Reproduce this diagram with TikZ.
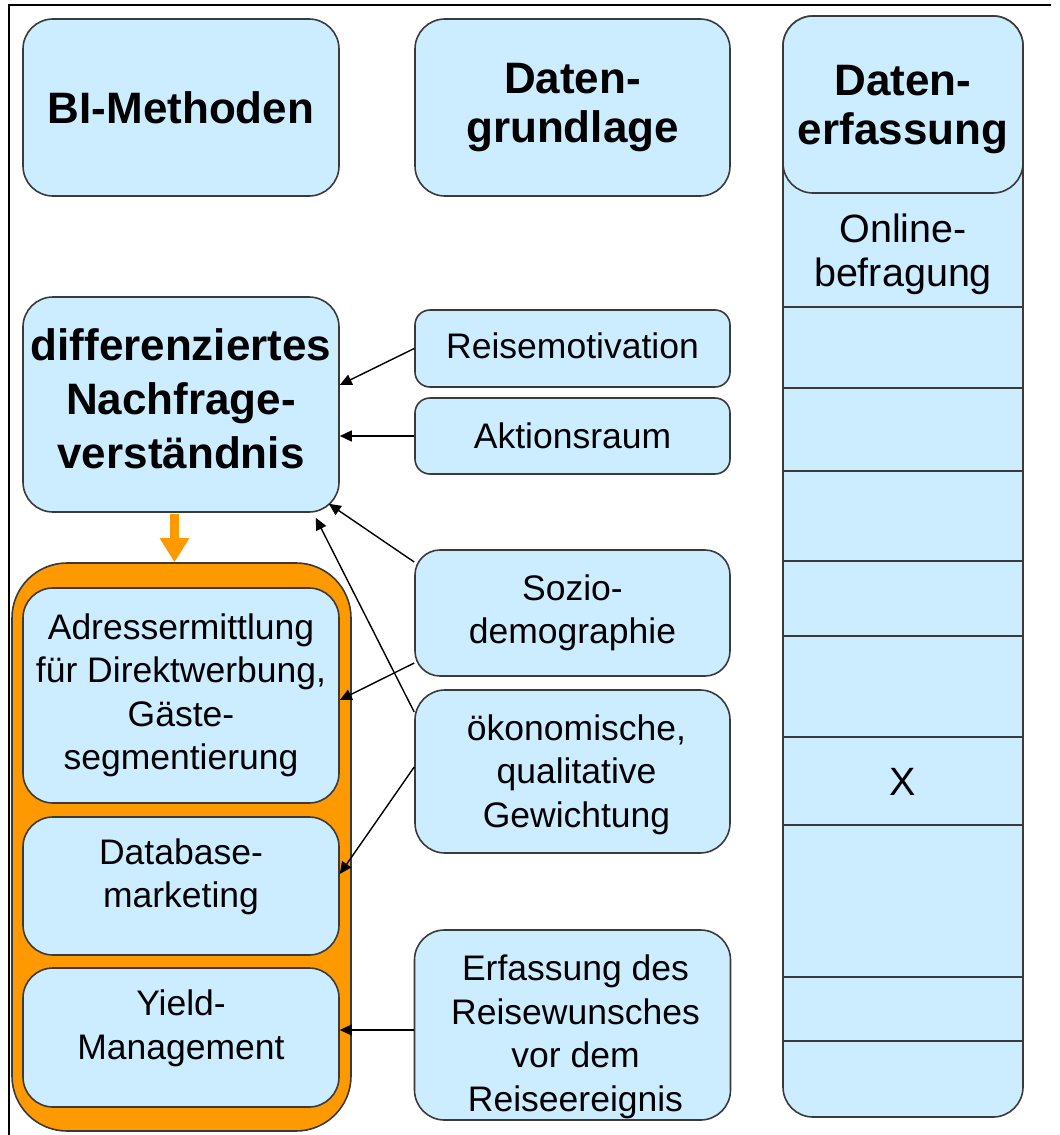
\documentclass[tikz,border=0pt]{standalone}
\usepackage{fontspec}
\setmainfont{Liberation Sans}
\usetikzlibrary{arrows.meta}

\definecolor{boxfill}{HTML}{CCECFF}
\definecolor{boxline}{HTML}{3A3A3A}
\definecolor{groupfill}{HTML}{FF9900}

\newcommand\dgbody{\fontsize{35.5}{43.5}\selectfont}
\newcommand\dgcell{\fontsize{39.5}{44}\selectfont}
\newcommand\dghead{\fontsize{44}{49}\selectfont\bfseries}
\newcommand\dgheadwide{\fontsize{44}{54}\selectfont\bfseries}

\begin{document}
\begin{tikzpicture}[x=1pt,y=-1pt,
  box/.style={draw=boxline, fill=boxfill, line width=1.6pt,
    rounded corners=#1, inner sep=0pt, align=center, font=\dgbody},
  box/.default=30pt,
  headtext/.style={font=\dghead},
  txt/.style={font=\dgbody, align=center, inner sep=0pt},
  link/.style={draw=black, line width=1.4pt, -{Triangle[length=12pt,width=11pt]}},
  cell/.style={font=\dgcell, align=center, inner sep=0pt},
]
\useasboundingbox (0,0) rectangle (1060,1135);

% frame edges
\draw[line width=2pt] (8.5,1135) -- (8.5,5) -- (1051,5);

% column headings
\node[box, headtext, minimum width=316pt, minimum height=177pt] (bi) at (181,107.5) {BI-Methoden};
\node[box, headtext, minimum width=315pt, minimum height=177pt] (dg) at (572.5,107.5) {Daten-\\grundlage};

% data acquisition column with its rows
\node[box, minimum width=240pt, minimum height=1101pt] (col) at (903,566.5) {};
\foreach \yy in {307,388,471,561,636,737,825,977,1041}
  \draw[boxline, line width=1.6pt] (783,\yy) -- (1023,\yy);
\node[box, minimum width=240pt, minimum height=177pt] (colhead) at (903,104.5) {};
\node[txt, headtext] (colheadtxt) at ([yshift=-5pt]colhead.center) {Daten-\\erfassung};
\node[cell] (online) at (903,254) {Online-\\befragung};
\node[cell] (mark) at (903,782) {X};

% demand understanding
\node[box, minimum width=316pt, minimum height=215pt] (diff) at (181,404.5) {};
\node[txt, font=\dgheadwide] (difftxt) at ([yshift=6pt]diff.center)
  {differenziertes\\Nachfrage-\\verständnis};

% data basis items
\node[box=15pt, minimum width=315pt, minimum height=77pt] (reise) at (572.5,348.5) {};
\node[txt] (reisetxt) at ([yshift=3pt]reise.center) {Reisemotivation};
\node[box=15pt, minimum width=315pt, minimum height=76pt] (akt) at (572.5,436) {Aktionsraum};
\node[box=25pt, minimum width=315pt, minimum height=126pt] (sozio) at (572.5,613) {Sozio-\\demographie};
\node[box, minimum width=315pt, minimum height=163pt] (oeko) at (572.5,771.5) {};
\node[txt] (oekotxt) at ([xshift=4pt,yshift=-3pt]oeko.center) {ökonomische,\\qualitative\\Gewichtung};
\node[box, minimum width=316pt, minimum height=190pt] (erf) at (572.5,1025) {};
\node[txt] (erftxt) at ([xshift=3pt,yshift=-12pt]erf.center)
  {Erfassung des\\Reisewunsches\\vor dem\\Reiseereignis};

% BI methods group
\node[box=55pt, fill=groupfill, minimum width=339pt, minimum height=568pt] (grp) at (181.5,847) {};
\node[box, minimum width=316pt, minimum height=215pt] (adr) at (181,695.5)
  {Adressermittlung\\für Direktwerbung,\\Gäste-\\segmentierung};
\node[box, minimum width=316pt, minimum height=138pt] (db) at (181,886) {};
\node[txt] (dbtxt) at ([yshift=9pt]db.center) {Database-\\marketing};
\node[box, minimum width=316pt, minimum height=139pt] (yld) at (181,1037.5) {};
\node[txt] (yldtxt) at ([yshift=9pt]yld.center) {Yield-\\Management};

% orange flow arrow
\draw[draw=groupfill, line width=9.5pt, -{Triangle[length=24pt,width=28pt]}]
  ([xshift=-6.5pt,yshift=-1pt]diff.south) -- ([xshift=-7pt]grp.north);

% relations
\draw[link] (reise.west) -- ([yshift=19.5pt]diff.east);
\draw[link] (akt.west) -- ([yshift=-31.5pt]diff.east);
\draw[link] ([yshift=51pt]sozio.west) -- ([xshift=-11pt,yshift=9pt]diff.south east);
\draw[link] ([yshift=59.5pt]oeko.west) -- ([xshift=-24pt,yshift=-5pt]diff.south east);
\draw[link] ([yshift=-50pt]sozio.west) -- ([yshift=-4.5pt]adr.east);
\draw[link] ([yshift=4.5pt]oeko.west) -- ([yshift=12pt]db.east);
\draw[link] ([yshift=-5pt]erf.west) -- ([yshift=7.5pt]yld.east);
\end{tikzpicture}
\end{document}
